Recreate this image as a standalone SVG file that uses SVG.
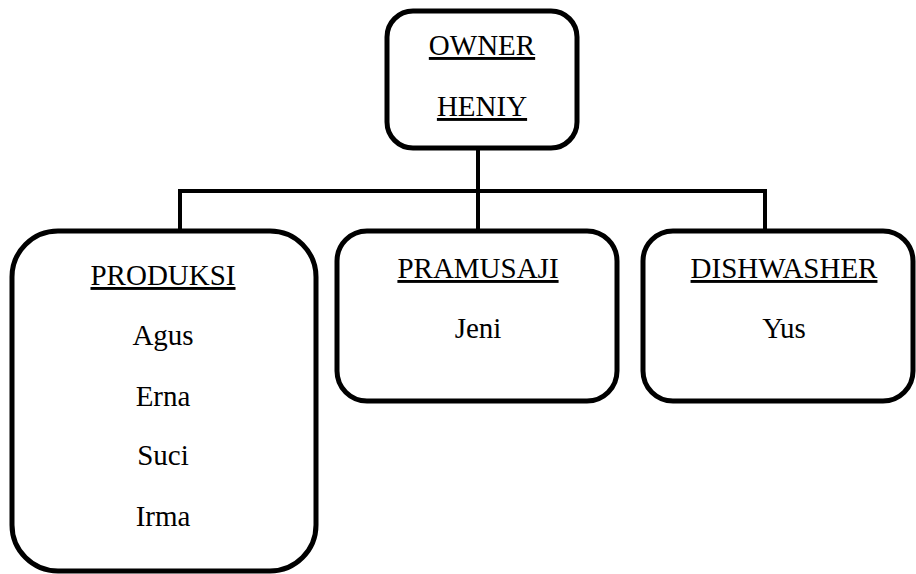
<svg xmlns="http://www.w3.org/2000/svg" width="916" height="574" viewBox="0 0 916 574">
<style>
.box{fill:#fff;stroke:#000;stroke-width:5}
.conn{fill:none;stroke:#000;stroke-width:4}
text{font-size:29px;fill:#000;text-anchor:middle}
.h{text-decoration:underline}
</style>
<rect width="916" height="574" fill="#fff"/>
<g id="connectors">
<line class="conn" x1="478" y1="147" x2="478" y2="191"/>
<polyline class="conn" points="180,232 180,191 765,191 765,232"/>
<line class="conn" x1="478" y1="191" x2="478" y2="232"/>
</g>
<g font-family="'Liberation Serif', 'Times New Roman', 'DejaVu Serif', serif">
<g id="owner">
<rect class="box" x="387" y="11" width="190" height="137" rx="26"/>
<text class="h" x="482" y="55">OWNER</text>
<text class="h" x="482" y="116">HENIY</text>
</g>
<g id="produksi">
<rect class="box" x="12" y="231" width="304" height="340" rx="46"/>
<text class="h" x="163" y="285">PRODUKSI</text>
<text x="163" y="345">Agus</text>
<text x="163" y="406">Erna</text>
<text x="163" y="465">Suci</text>
<text x="163" y="526">Irma</text>
</g>
<g id="pramusaji">
<rect class="box" x="337" y="231" width="280" height="170" rx="30"/>
<text class="h" x="478" y="278">PRAMUSAJI</text>
<text x="478" y="338">Jeni</text>
</g>
<g id="dishwasher">
<rect class="box" x="643" y="231" width="270" height="170" rx="30"/>
<text class="h" x="784" y="278">DISHWASHER</text>
<text x="784" y="338">Yus</text>
</g>
</g>
</svg>
